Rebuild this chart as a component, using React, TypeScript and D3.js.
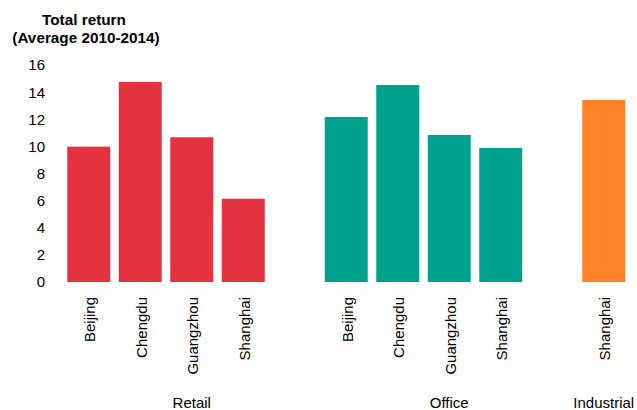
import React from "react";
import * as d3 from "d3";

const groups = ["Retail", "Office", "Industrial"];
const retailCities = ["Beijing", "Chengdu", "Guangzhou", "Shanghai"];
const retailValues = [9.98, 14.75, 10.67, 6.14];
const officeCities = ["Beijing", "Chengdu", "Guangzhou", "Shanghai"];
const officeValues = [12.17, 14.53, 10.84, 9.88];
const industrialCities = ["Shanghai"];
const industrialValues = [13.42];
const groupColors = ["#e4323f", "#00a28e", "#ff8229"];
const yTicks = [0, 2, 4, 6, 8, 10, 12, 14, 16];

const W = 637;
const H = 410;
const FONT = "'Liberation Sans', Arial, sans-serif";

type Row = { key: string; group: number; city: string; value: number };

const groupData: [string[], number[]][] = [
  [retailCities, retailValues],
  [officeCities, officeValues],
  [industrialCities, industrialValues],
];

// Slots in order, with one empty slot between groups
const slots: string[] = [];
const rows: Row[] = [];
groupData.forEach(([cities, values], g) => {
  if (g > 0) slots.push(`gap-${g}`);
  cities.forEach((c, i) => {
    const key = `${g}-${c}`;
    slots.push(key);
    rows.push({ key, group: g, city: c, value: values[i] });
  });
});

export default function App() {
  const x = d3
    .scaleBand<string>()
    .domain(slots)
    .range([63, 629.5])
    .paddingInner(0.165)
    .paddingOuter(0.0825);
  const y = d3.scaleLinear().domain([0, 16]).range([282, 65]);
  const bw = x.bandwidth();

  return (
    <svg
      width={W}
      height={H}
      style={{ position: "absolute", left: 0, top: 0, background: "#fff" }}
      fontFamily={FONT}
    >
      <text x={84} y={25} textAnchor="middle" fontSize={15.3} fontWeight="bold" fill="#000">
        Total return
      </text>
      <text x={86} y={43} textAnchor="middle" fontSize={15.3} fontWeight="bold" fill="#000">
        (Average 2010-2014)
      </text>

      {yTicks.map((t) => (
        <text
          key={t}
          x={45}
          y={y(t)}
          dy="0.36em"
          textAnchor="end"
          fontSize={15}
          fill="#000"
        >
          {t}
        </text>
      ))}

      {rows.map((r) => (
        <rect
          key={r.key}
          x={x(r.key)}
          y={y(r.value)}
          width={bw}
          height={y(0) - y(r.value)}
          fill={groupColors[r.group]}
        />
      ))}

      {rows.map((r) => {
        const cx = (x(r.key) as number) + bw / 2;
        return (
          <text
            key={`l-${r.key}`}
            transform={`translate(${cx},297) rotate(-90)`}
            dy="0.44em"
            textAnchor="end"
            fontSize={15}
            fill="#000"
          >
            {r.city}
          </text>
        );
      })}

      {groups.map((g, gi) => {
        const members = rows.filter((r) => r.group === gi);
        const anchor = members[Math.floor(members.length / 2)];
        const cx = (x(anchor.key) as number) + bw / 2;
        return (
          <text key={g} x={cx} y={408} textAnchor="middle" fontSize={15} fill="#000">
            {g}
          </text>
        );
      })}
    </svg>
  );
}
